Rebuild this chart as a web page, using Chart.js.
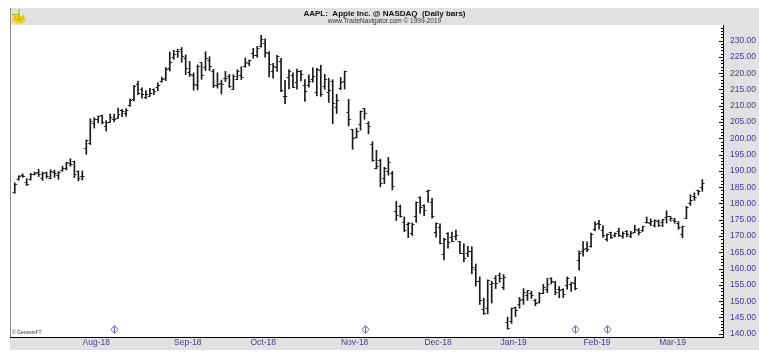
<!DOCTYPE html>
<html><head><meta charset="utf-8">
<script src="https://cdn.jsdelivr.net/npm/chart.js@4.4.1/dist/chart.umd.min.js"></script>
<style>html,body{margin:0;padding:0;background:#fff;overflow:hidden}canvas{display:block}</style>
</head><body>
<canvas id="c" width="759" height="356"></canvas>
<script>
// ---- data (AAPL daily bars) ----
const dates = [
'2018-07-06','2018-07-09','2018-07-10','2018-07-11','2018-07-12','2018-07-13','2018-07-16','2018-07-17','2018-07-18','2018-07-19','2018-07-20','2018-07-23','2018-07-24','2018-07-25','2018-07-26','2018-07-27','2018-07-30','2018-07-31',
'2018-08-01','2018-08-02','2018-08-03','2018-08-06','2018-08-07','2018-08-08','2018-08-09','2018-08-10','2018-08-13','2018-08-14','2018-08-15','2018-08-16','2018-08-17','2018-08-20','2018-08-21','2018-08-22','2018-08-23','2018-08-24','2018-08-27','2018-08-28','2018-08-29','2018-08-30','2018-08-31',
'2018-09-04','2018-09-05','2018-09-06','2018-09-07','2018-09-10','2018-09-11','2018-09-12','2018-09-13','2018-09-14','2018-09-17','2018-09-18','2018-09-19','2018-09-20','2018-09-21','2018-09-24','2018-09-25','2018-09-26','2018-09-27','2018-09-28',
'2018-10-01','2018-10-02','2018-10-03','2018-10-04','2018-10-05','2018-10-08','2018-10-09','2018-10-10','2018-10-11','2018-10-12','2018-10-15','2018-10-16','2018-10-17','2018-10-18','2018-10-19','2018-10-22','2018-10-23','2018-10-24','2018-10-25','2018-10-26','2018-10-29','2018-10-30','2018-10-31',
'2018-11-01','2018-11-02','2018-11-05','2018-11-06','2018-11-07','2018-11-08','2018-11-09','2018-11-12','2018-11-13','2018-11-14','2018-11-15','2018-11-16','2018-11-19','2018-11-20','2018-11-21','2018-11-23','2018-11-26','2018-11-27','2018-11-28','2018-11-29','2018-11-30',
'2018-12-03','2018-12-04','2018-12-06','2018-12-07','2018-12-10','2018-12-11','2018-12-12','2018-12-13','2018-12-14','2018-12-17','2018-12-18','2018-12-19','2018-12-20','2018-12-21','2018-12-24','2018-12-26','2018-12-27','2018-12-28','2018-12-31',
'2019-01-02','2019-01-03','2019-01-04','2019-01-07','2019-01-08','2019-01-09','2019-01-10','2019-01-11','2019-01-14','2019-01-15','2019-01-16','2019-01-17','2019-01-18','2019-01-22','2019-01-23','2019-01-24','2019-01-25','2019-01-28','2019-01-29','2019-01-30','2019-01-31',
'2019-02-01','2019-02-04','2019-02-05','2019-02-06','2019-02-07','2019-02-08','2019-02-11','2019-02-12','2019-02-13','2019-02-14','2019-02-15','2019-02-19','2019-02-20','2019-02-21','2019-02-22','2019-02-25','2019-02-26','2019-02-27','2019-02-28',
'2019-03-01','2019-03-04','2019-03-05','2019-03-06','2019-03-07','2019-03-08','2019-03-11','2019-03-12','2019-03-13','2019-03-14','2019-03-15'
];
const opens = [
183.33,187.36,188.55,186.37,187.39,188.92,189.36,187.61,189.61,187.55,189.61,188.53,190.27,190.88,192.41,192.79,189.73,188.15,
196.88,198.31,204.69,205.65,206.95,203.72,204.94,205.74,206.08,208.52,207.59,210.10,211.78,216.40,215.11,212.43,212.98,214.91,215.46,217.30,218.43,221.51,224.74,
226.63,227.20,224.47,220.12,219.23,216.31,223.19,221.78,223.99,220.42,216.09,216.80,218.52,219.06,215.13,218.04,219.28,222.07,223.04,
226.17,225.48,228.26,228.98,226.18,220.48,221.90,223.70,212.85,218.70,219.43,217.22,220.57,216.16,216.36,218.08,214.15,220.86,216.01,214.22,217.48,209.50,215.19,
217.34,207.92,202.71,200.35,204.36,209.08,204.67,198.14,190.81,193.07,187.58,189.68,189.18,177.60,178.96,174.19,173.49,170.77,175.97,181.87,179.51,
183.67,180.17,171.02,172.74,164.29,170.92,169.67,169.76,168.27,164.74,164.67,165.29,159.71,156.19,147.51,147.66,155.17,156.82,157.85,
154.22,143.36,143.91,148.06,148.92,150.64,151.84,152.22,150.20,149.62,152.42,153.54,156.82,155.74,153.49,153.45,154.81,155.12,155.58,162.55,165.40,
166.24,166.69,172.12,173.90,171.66,168.99,171.05,170.10,171.39,169.71,171.25,169.71,171.19,171.80,171.58,174.16,173.71,173.21,174.32,
174.28,175.69,175.94,174.67,173.87,170.32,175.49,180.00,182.25,183.90,184.85
];
const highs = [
186.30,188.53,189.12,187.64,189.25,189.68,190.47,189.70,189.63,190.37,190.25,189.79,191.47,192.65,193.75,192.99,190.03,189.97,
199.48,206.03,206.38,206.89,207.13,205.46,207.41,207.47,209.30,208.92,209.10,212.14,216.25,217.47,215.50,214.67,215.36,215.21,217.03,218.82,221.75,226.48,227.08,
227.39,227.88,225.58,223.61,220.12,222.55,223.25,226.57,225.07,221.21,220.12,217.91,220.55,219.63,219.53,221.08,222.00,224.68,224.08,
227.63,228.21,231.65,230.54,226.63,223.05,225.50,224.58,217.79,221.14,220.10,221.25,220.90,218.03,219.53,221.62,221.51,222.48,219.65,218.47,217.98,213.50,218.73,
220.63,211.98,202.80,203.12,208.42,209.22,205.12,198.99,196.33,193.64,191.14,194.13,189.88,180.69,179.49,175.84,174.20,174.02,180.51,182.01,179.55,
184.14,181.61,174.03,173.74,169.36,171.05,171.18,171.83,168.35,167.63,166.81,166.73,161.41,157.48,150.90,156.55,156.10,157.84,158.67,
158.17,145.09,147.91,148.19,151.17,153.87,153.31,153.04,150.62,152.73,155.21,156.98,157.20,156.06,154.47,153.82,157.45,155.66,157.45,165.44,168.27,
168.25,170.92,174.33,174.82,173.19,170.66,171.21,171.00,172.48,171.26,171.70,171.44,173.32,172.37,173.00,175.87,175.30,175.00,174.91,
175.15,177.75,176.00,175.49,174.44,173.07,179.12,182.67,183.30,184.10,187.33
];
const lows = [
183.11,187.16,188.03,185.49,187.17,188.74,188.27,187.06,187.78,187.55,188.02,187.42,189.88,190.25,191.42,187.95,186.93,187.20,
195.08,198.09,203.16,204.73,204.42,202.21,204.86,205.06,206.08,206.64,206.71,209.82,211.50,213.43,212.36,212.17,212.93,213.43,214.64,217.21,217.70,220.67,224.24,
224.86,223.34,219.57,218.99,214.78,214.87,218.13,220.83,220.78,215.58,215.43,213.62,217.44,215.59,214.94,217.99,218.05,221.80,222.27,
224.58,224.86,227.99,224.96,218.86,218.48,220.52,214.36,210.66,215.15,215.58,215.07,217.63,211.34,215.73,217.23,213.03,212.87,215.06,211.01,204.48,207.64,214.93,
215.12,203.83,196.63,200.12,202.54,205.86,201.38,192.96,190.63,185.13,186.10,188.65,184.19,174.76,175.79,171.36,169.53,170.15,174.18,176.94,176.27,
180.43,175.51,169.69,167.58,162.63,166.28,168.29,168.82,164.57,162.03,163.68,158.41,154.63,148.99,145.96,146.09,149.42,153.89,155.81,
153.57,141.39,143.18,145.27,147.88,148.99,150.21,150.86,148.58,149.40,152.34,152.60,155.31,151.96,151.05,151.09,153.66,153.00,153.45,159.54,163.85,
165.22,166.56,171.61,172.11,169.61,168.42,169.25,169.70,169.92,169.38,169.75,169.49,170.99,170.30,171.38,173.95,173.17,172.73,172.92,
172.89,173.97,174.54,173.94,172.02,169.50,175.35,179.37,180.92,182.56,183.74
];
const closes = [
185.85,188.43,188.20,185.76,188.87,189.17,188.75,189.29,188.25,189.71,189.27,189.45,190.82,192.62,192.02,188.82,187.76,188.14,
199.22,205.05,205.64,206.71,204.77,204.91,206.52,205.91,207.24,208.11,208.60,211.66,215.88,213.78,213.36,213.37,213.81,214.47,216.24,217.99,221.24,223.27,225.85,
226.58,225.10,221.36,219.57,216.63,222.10,219.35,224.64,222.09,216.18,216.54,216.67,218.31,215.96,219.07,220.46,218.70,223.20,223.98,
225.49,227.49,230.26,226.21,222.54,222.02,225.10,214.67,212.78,220.38,215.66,220.42,219.46,214.34,217.60,218.93,220.99,213.41,218.09,214.61,210.58,211.64,217.15,
220.49,205.86,200.02,202.18,208.31,207.59,203.59,193.34,191.40,186.00,190.59,192.70,185.06,176.22,176.02,171.55,173.87,173.49,180.16,178.78,177.81,
184.03,175.93,173.97,167.77,168.87,167.90,168.37,170.21,164.77,163.24,165.36,160.20,156.16,150.08,146.20,156.49,155.48,155.56,157.06,
157.24,141.58,147.62,147.29,150.10,152.65,153.14,151.64,149.36,152.41,154.27,155.19,156.15,152.64,153.26,152.04,157.08,155.63,154.01,164.54,165.72,
165.80,170.51,173.43,173.49,170.21,170.41,169.43,170.89,170.18,170.80,170.42,170.93,172.03,171.06,172.97,174.23,174.33,174.87,173.15,
174.97,175.85,175.53,174.52,172.50,172.91,178.90,180.91,181.71,183.73,186.12
];
const yTickValues = [140,145,150,155,160,165,170,175,180,185,190,195,200,205,210,215,220,225,230];
const xTickLabels = ['Aug-18','Sep-18','Oct-18','Nov-18','Dec-18','Jan-19','Feb-19','Mar-19'];
const eventDates = ['2018-08-10','2018-11-08','2019-01-29','2019-02-08'];
const titleText = 'AAPL:  Apple Inc. @ NASDAQ  (Daily bars)';
const subtitleText = 'www.TradeNavigator.com \u00A9 1999-2019';
const creditText = '\u00A9 GenesisFT';

if ([opens, highs, lows, closes].some(a => a.length !== dates.length)) throw new Error('length mismatch');

// ---- helpers ----
const MONTHS = ['Jan','Feb','Mar','Apr','May','Jun','Jul','Aug','Sep','Oct','Nov','Dec'];
const monthLabel = d => MONTHS[+d.slice(5,7)-1] + '-' + d.slice(2,4);
const xTickIdx = xTickLabels.map(l => dates.findIndex(d => monthLabel(d) === l));
const eventIdx = eventDates.map(e => dates.indexOf(e));

const FONT = '"Liberation Sans Narrow","Arial Narrow","Liberation Sans",Arial,sans-serif';
const AXIS_COLOR = '#3d3d9e';
const BAND = '#e1e1e1';
const BAR_COLOR = '#1a1a1a';

function tickImage(side) {
  const c = document.createElement('canvas');
  c.width = 6; c.height = 1;
  const g = c.getContext('2d');
  g.fillStyle = BAR_COLOR;
  g.fillRect(side < 0 ? 0.8 : 3, 0, 2.2, 1);
  return c;
}

const framePlugin = {
  id: 'frame',
  beforeDraw(chart) {
    const {ctx, chartArea: a, width, height} = chart;
    ctx.save();
    ctx.fillStyle = '#fff';
    ctx.fillRect(0, 0, width, height);
    ctx.fillStyle = BAND;
    ctx.fillRect(a.left, 8, width - a.left, a.top - 8);          // header
    ctx.fillRect(a.right, a.top, width - a.right, a.bottom - a.top + 13); // right axis band
    ctx.fillRect(a.left, a.bottom, a.right - a.left, 13);         // bottom axis band
    ctx.restore();
  },
  afterDraw(chart) {
    const {ctx, chartArea: a, scales: {x, y}} = chart;
    ctx.save();
    // left frame line
    ctx.strokeStyle = '#8a8a8a';
    ctx.lineWidth = 1;
    ctx.beginPath(); ctx.moveTo(a.left + 0.5, 8); ctx.lineTo(a.left + 0.5, a.bottom); ctx.stroke();
    // y minor / major tick marks inside the plot
    ctx.strokeStyle = '#000';
    for (let v = Math.ceil(y.min); v <= Math.floor(y.max); v++) {
      const py = Math.round(y.getPixelForValue(v)) + 0.5;
      const len = v % 5 === 0 ? 4 : 2;
      ctx.beginPath(); ctx.moveTo(a.right - len, py); ctx.lineTo(a.right, py); ctx.stroke();
    }
    // event markers
    ctx.strokeStyle = '#5b69b5';
    ctx.lineWidth = 1;
    eventIdx.forEach(i => {
      const px = Math.round(x.getPixelForValue(i)) + 0.5;
      const py = a.bottom - 7.5;
      ctx.beginPath();
      ctx.moveTo(px, py - 4); ctx.lineTo(px + 3.5, py); ctx.lineTo(px, py + 4); ctx.lineTo(px - 3.5, py); ctx.closePath();
      ctx.stroke();
      ctx.beginPath(); ctx.moveTo(px, py - 3); ctx.lineTo(px, py + 3); ctx.stroke();
    });
    // credit
    ctx.fillStyle = '#333';
    ctx.font = '5px ' + FONT;
    ctx.textBaseline = 'alphabetic';
    ctx.fillText(creditText, a.left + 2, a.bottom - 3);
    // logo
    ctx.fillStyle = '#f2d21a';
    ctx.strokeStyle = '#c9a400';
    ctx.beginPath(); ctx.ellipse(a.left + 9, 19.5, 7, 4, 0, 0, Math.PI * 2); ctx.fill();
    ctx.beginPath(); ctx.moveTo(a.left + 9, 9); ctx.lineTo(a.left + 9, 20); ctx.stroke();
    ctx.beginPath(); ctx.moveTo(a.left + 2, 14.5); ctx.lineTo(a.left + 9, 14.5); ctx.stroke();
    ctx.beginPath(); ctx.arc(a.left + 9, 15, 5, 0, Math.PI); ctx.stroke();
    ctx.restore();
  }
};

new Chart(document.getElementById('c'), {
  type: 'bar',
  data: {
    datasets: [
      {
        type: 'bar',
        data: dates.map((d, i) => ({x: i, y: [lows[i], highs[i]]})),
        backgroundColor: BAR_COLOR,
        barThickness: 1,
        order: 3
      },
      {
        type: 'line',
        data: dates.map((d, i) => ({x: i, y: opens[i]})),
        showLine: false,
        pointStyle: tickImage(-1),
        pointRadius: 3,
        order: 1
      },
      {
        type: 'line',
        data: dates.map((d, i) => ({x: i, y: closes[i]})),
        showLine: false,
        pointStyle: tickImage(1),
        pointRadius: 3,
        order: 2
      }
    ]
  },
  options: {
    responsive: false,
    animation: false,
    events: [],
    layout: {padding: {left: 10, right: 0, top: 0, bottom: 6}},
    plugins: {
      legend: {display: false},
      tooltip: {enabled: false},
      title: {
        display: true, text: titleText, color: '#111',
        font: {family: FONT, size: 8, weight: 'bold', lineHeight: 1},
        padding: {top: 10, bottom: 0}
      },
      subtitle: {
        display: true, text: subtitleText, color: '#333',
        font: {family: FONT, size: 6.5, lineHeight: 1},
        padding: {top: 0, bottom: 0.5}
      }
    },
    scales: {
      x: {
        type: 'linear', min: -1.2, max: 178.2, offset: false,
        grid: {display: false, drawTicks: false},
        border: {display: true, color: '#000', width: 1},
        afterBuildTicks: s => { s.ticks = xTickIdx.map(v => ({value: v})); },
        afterFit: s => { s.height = 13; },
        ticks: {
          autoSkip: false, maxRotation: 0, minRotation: 0, labelOffset: 10, padding: 1,
          color: AXIS_COLOR, font: {family: FONT, size: 8.5},
          callback: v => monthLabel(dates[v])
        }
      },
      y: {
        type: 'linear', position: 'right', min: 139, max: 234.8,
        grid: {display: false, drawTicks: false},
        border: {display: true, color: '#000', width: 1},
        afterBuildTicks: s => { s.ticks = yTickValues.map(v => ({value: v})); },
        afterFit: s => { s.width = 36; },
        ticks: {
          padding: 7, color: AXIS_COLOR, font: {family: FONT, size: 8.5},
          callback: v => v.toFixed(2)
        }
      }
    }
  },
  plugins: [framePlugin]
});
</script>
</body></html>
